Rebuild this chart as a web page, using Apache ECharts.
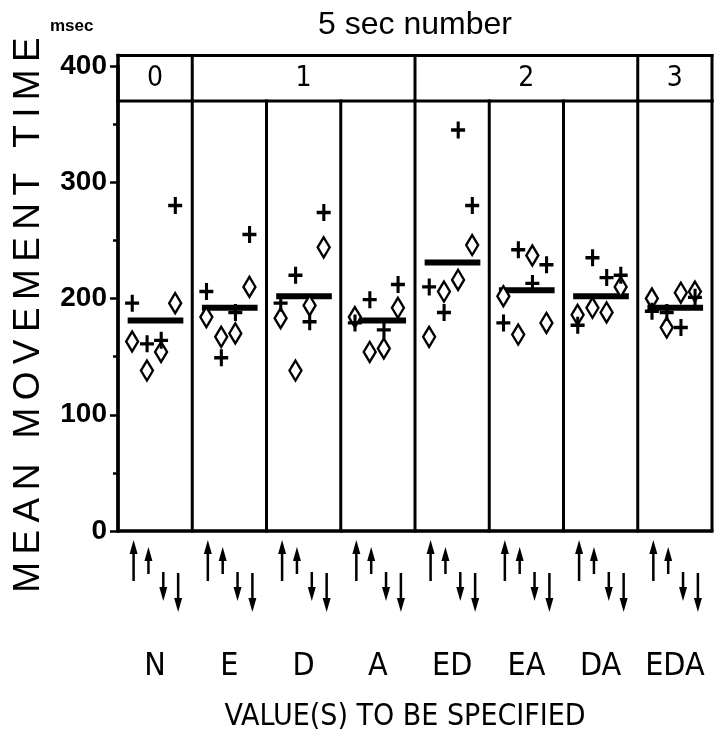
<!DOCTYPE html>
<html>
<head>
<meta charset="utf-8">
<script src="https://cdn.jsdelivr.net/npm/echarts@6/dist/echarts.min.js"></script>
<style>
html,body{margin:0;padding:0;background:#fff;}
#chart{width:727px;height:740px;}
</style>
</head>
<body>
<div id="chart"></div>
<script>
// ---------- data ----------
const categories = ['N', 'E', 'D', 'A', 'ED', 'EA', 'DA', 'EDA'];
const headerLabels = ['0', '1', '2', '3'];
const headerSpans = [1, 3, 3, 1];          // number of panels under each header label
const arrowDirections = ['up', 'up', 'down', 'down'];
// values per panel, at the four arrow conditions (msec)
const plusValues = [
  [196, 161, 164, 280],
  [206, 149, 188, 255],
  [196, 220, 180, 274],
  [179, 199, 173, 212],
  [210, 188, 345, 280],
  [179, 242, 213, 229],
  [177, 235, 218, 220],
  [189, 188, 175, 201]
];
const diamondValues = [
  [163, 138, 154, 196],
  [184, 167, 170, 210],
  [183, 138, 194, 244],
  [184, 154, 157, 192],
  [167, 206, 216, 246],
  [202, 169, 237, 179],
  [186, 192, 188, 210],
  [200, 175, 205, 206]
];
const meanValues = [181, 192, 202, 181, 231, 207, 202, 192];
const yTicks = [0, 100, 200, 300, 400];

// ---------- layout / style constants ----------
const pointOffsets = [0.19, 0.39, 0.58, 0.77];
const arrowOffsets = [0.21, 0.41, 0.61, 0.81];
const meanBarSpan = [0.13, 0.88];
const headerBottom = 370, headerTop = 409, headerTextY = 389;
const arrowShapes = [ {a: 9, b: 50}, {a: 16, b: 43}, {a: 41, b: 70}, {a: 42, b: 81} ];
const NARROW = '"Liberation Sans Narrow", "DejaVu Sans Condensed", "Liberation Sans", sans-serif';
const SANS = '"Liberation Sans", Arial, sans-serif';

const plusData = [], diamondData = [], meanData = [], arrowData = [];
categories.forEach((c, i) => {
  for (let j = 0; j < 4; j++) {
    plusData.push([i + pointOffsets[j], plusValues[i][j]]);
    diamondData.push([i + pointOffsets[j], diamondValues[i][j]]);
    arrowData.push([i + arrowOffsets[j], j]);
  }
  meanData.push([i, meanValues[i]]);
});

const PLUS_PATH = 'path://M4,0 L6.2,0 L6.2,6.4 L10,6.4 L10,9.6 L6.2,9.6 L6.2,16 L4,16 L4,9.6 L0,9.6 L0,6.4 L4,6.4 Z';

function renderFrame(params, api) {
  const ch = [];
  const line = (p, q, w) => ch.push({type: 'line', shape: {x1: p[0], y1: p[1], x2: q[0], y2: q[1]},
      style: {stroke: '#000', lineWidth: w, lineCap: 'square'}});
  const n = categories.length;
  for (let k = 0; k <= n; k++) line(api.coord([k, 0]), api.coord([k, headerBottom]), 3);
  line(api.coord([0, headerBottom]), api.coord([n, headerBottom]), 3);
  line(api.coord([0, headerTop]), api.coord([n, headerTop]), 3);
  let start = 0;
  line(api.coord([0, headerBottom]), api.coord([0, headerTop]), 3.5);
  headerLabels.forEach((lab, g) => {
    const end = start + headerSpans[g];
    line(api.coord([end, headerBottom]), api.coord([end, headerTop]), 3);
    const c = api.coord([(start + end) / 2, headerTextY]);
    ch.push({type: 'text', x: c[0], y: c[1],
      style: {text: lab, font: '28px ' + NARROW, fill: '#000', textAlign: 'center', textVerticalAlign: 'middle'}});
    start = end;
  });
  return {type: 'group', children: ch};
}

function renderMean(params, api) {
  const i = api.value(0), v = api.value(1);
  const p = api.coord([i + meanBarSpan[0], v]);
  const q = api.coord([i + meanBarSpan[1], v]);
  return {type: 'line', shape: {x1: p[0], y1: p[1], x2: q[0], y2: q[1]},
    style: {stroke: '#000', lineWidth: 6}};
}

function renderArrow(params, api) {
  const x = api.value(0), j = api.value(1);
  const base = api.coord([x, 0]);
  const s = arrowShapes[j];
  const up = arrowDirections[j] === 'up';
  const yTip = base[1] + (up ? s.a : s.b);
  const yTail = base[1] + (up ? s.b : s.a);
  const head = 14, hw = 4;
  const yHeadBase = up ? yTip + head : yTip - head;
  return {type: 'group', children: [
    {type: 'line', shape: {x1: base[0], y1: yTail, x2: base[0], y2: yHeadBase}, style: {stroke: '#000', lineWidth: 2.5}},
    {type: 'polygon', shape: {points: [[base[0], yTip], [base[0] - hw, yHeadBase], [base[0] + hw, yHeadBase]]}, style: {fill: '#000'}}
  ]};
}

const chart = echarts.init(document.getElementById('chart'), null, {renderer: 'canvas'});
chart.setOption({
  backgroundColor: '#fff',
  animation: false,
  title: {
    text: '5 sec number', left: 410, top: 4, textAlign: 'center',
    textStyle: {fontFamily: SANS, fontSize: 32, fontWeight: 'normal', color: '#000'}
  },
  graphic: [
    {type: 'text', left: 50, top: 18, style: {text: 'msec', font: 'bold 17px ' + SANS, fill: '#000'}},
    {type: 'text', x: 29, y: 315, rotation: Math.PI / 2,
      style: {text: 'MEAN MOVEMENT TIME'.split('').join('\u2009'), font: '37px ' + SANS, fill: '#000',
        textAlign: 'center', textVerticalAlign: 'middle'}},
    {type: 'text', x: 405, y: 717,
      style: {text: 'VALUE(S) TO BE SPECIFIED', font: '30px ' + NARROW, fill: '#000',
        textAlign: 'center', textVerticalAlign: 'middle'}}
  ],
  grid: {left: 118, right: 15, top: 66, bottom: 209, containLabel: false},
  xAxis: [
    {type: 'value', min: 0, max: categories.length, interval: 1,
      axisLine: {show: true, onZero: false, lineStyle: {color: '#000', width: 3.5}},
      axisTick: {show: false}, axisLabel: {show: false}, splitLine: {show: false}},
    {type: 'category', data: categories, position: 'bottom', boundaryGap: true,
      axisLine: {show: false}, axisTick: {show: false}, splitLine: {show: false},
      axisLabel: {interval: 0, margin: 120, fontFamily: NARROW, fontSize: 32, color: '#000'}}
  ],
  yAxis: {
    type: 'value', min: 0, max: 400, interval: 100,
    axisLine: {show: true, lineStyle: {color: '#000', width: 3.5}},
    axisTick: {show: true, length: 8, lineStyle: {color: '#000', width: 2.5}},
    minorTick: {show: true, splitNumber: 2, length: 5, lineStyle: {color: '#000', width: 2.5}},
    splitLine: {show: false},
    axisLabel: {margin: 11, fontFamily: SANS, fontWeight: 'bold', fontSize: 28, color: '#000',
      formatter: v => yTicks.indexOf(v) >= 0 ? String(v) : ''}
  },
  series: [
    {type: 'custom', name: 'frame', xAxisIndex: 0, clip: false, silent: true, data: [[0, 0]], renderItem: renderFrame, z: 1},
    {type: 'custom', name: 'arrows', xAxisIndex: 0, clip: false, silent: true, data: arrowData, renderItem: renderArrow, z: 1},
    {type: 'custom', name: 'mean', xAxisIndex: 0, clip: false, silent: true, data: meanData, renderItem: renderMean, z: 2},
    {type: 'scatter', name: 'diamond', xAxisIndex: 0, data: diamondData, symbol: 'diamond', symbolSize: [12, 20],
      itemStyle: {color: '#fff', borderColor: '#000', borderWidth: 2.5, opacity: 1}, z: 3},
    {type: 'scatter', name: 'plus', xAxisIndex: 0, data: plusData, symbol: PLUS_PATH, symbolSize: [14, 17],
      itemStyle: {color: '#000', opacity: 1}, z: 4}
  ]
});
</script>
</body>
</html>
